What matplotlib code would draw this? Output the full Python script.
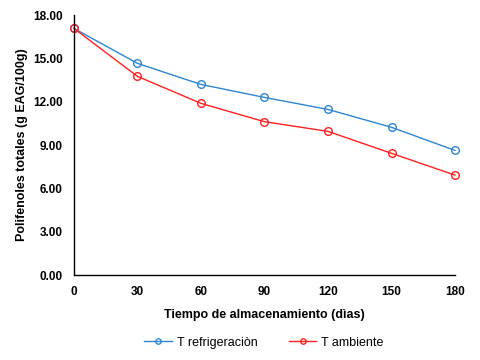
import matplotlib
matplotlib.use("Agg")
import matplotlib.pyplot as plt

plt.rcParams['font.family'] = ['Liberation Sans', 'DejaVu Sans']

# Data
dias = [0, 30, 60, 90, 120, 150, 180]
t_refrigeracion = [17.08, 14.66, 13.20, 12.30, 11.47, 10.23, 8.63]
t_ambiente = [17.08, 13.76, 11.89, 10.62, 9.95, 8.43, 6.92]
yticks = [0, 3, 6, 9, 12, 15, 18]

fig = plt.figure(figsize=(4.8, 3.6), dpi=100)
ax = fig.add_axes([0.154, 0.236, 0.794, 0.722])

ax.plot(dias, t_refrigeracion, color='#2E86D1', linewidth=1.0, marker='o',
        markersize=5.5, markerfacecolor='none', markeredgewidth=1.0,
        label='T refrigeraciòn')
ax.plot(dias, t_ambiente, color='#FF2020', linewidth=1.0, marker='o',
        markersize=5.5, markerfacecolor='none', markeredgewidth=1.0,
        label='T ambiente')

ax.set_xlim(0, 180)
ax.set_ylim(0, 18)
ax.set_xticks(dias)
ax.set_yticks(yticks)
ax.set_yticklabels([f'{v:.2f}' for v in yticks])
ax.tick_params(length=0, labelsize=8.5, pad=8)
for lbl in ax.get_xticklabels() + ax.get_yticklabels():
    lbl.set_fontweight('bold')

ax.spines['top'].set_visible(False)
ax.spines['right'].set_visible(False)
for s in ('left', 'bottom'):
    ax.spines[s].set_linewidth(1.0)
for line in ax.get_lines():
    line.set_clip_on(False)

ax.set_xlabel('Tiempo de almacenamiento (dìas)', fontsize=9, fontweight='bold', labelpad=8)
ax.set_ylabel('Polifenoles totales (g EAG/100g)', fontsize=9, fontweight='bold', labelpad=4)

fig.legend(loc='lower center', bbox_to_anchor=(0.55, 0.0), ncol=2, frameon=False,
           fontsize=9, handlelength=2.2, handletextpad=0.4, columnspacing=2.5,
           markerscale=0.7)

plt.savefig('out.png', dpi=100)
